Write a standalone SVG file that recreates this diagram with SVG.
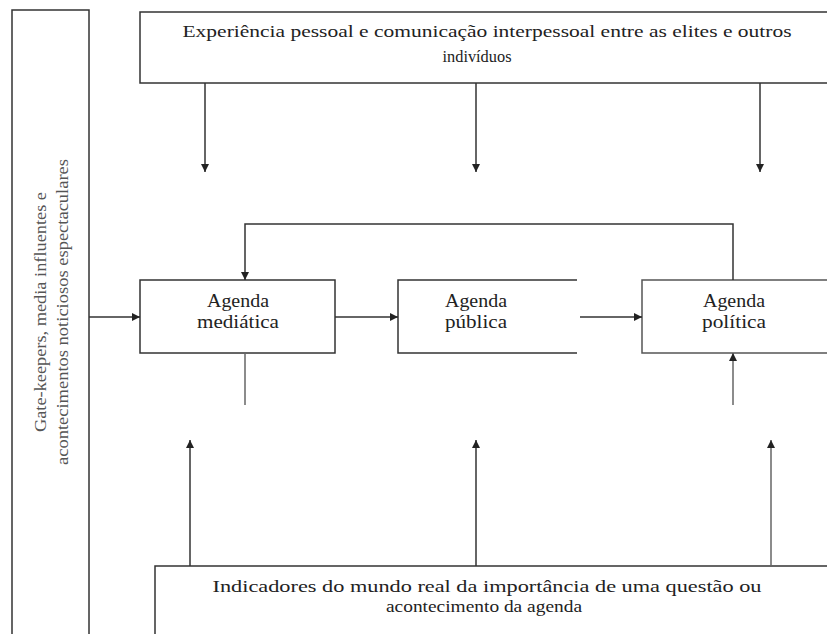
<svg xmlns="http://www.w3.org/2000/svg" width="827" height="634" viewBox="0 0 827 634">
<defs>
<style>
.box{fill:#fff;stroke:#333;stroke-width:1.5}
.ln{fill:none;stroke:#333;stroke-width:1.5}
.t{font-family:"Liberation Serif","DejaVu Serif",serif;font-size:17px;fill:#222;text-anchor:middle}
.a{font-size:19px}
.v{fill:#555;font-size:16px}
</style>
<marker id="ah" viewBox="0 0 10 10" refX="10" refY="5" markerWidth="8" markerHeight="8" markerUnits="userSpaceOnUse" orient="auto">
<path d="M0,0 L10,5 L0,10 z" fill="#222"/>
</marker>
</defs>
<rect width="827" height="634" fill="#fff"/>
<g id="gatekeepers">
<rect class="box" x="12" y="10" width="77" height="640"/>
<text class="t v" transform="translate(46,312) rotate(-90)" textLength="240" lengthAdjust="spacingAndGlyphs">Gate-keepers, media influentes e</text>
<text class="t v" transform="translate(68,312) rotate(-90)" textLength="306" lengthAdjust="spacingAndGlyphs">acontecimentos noticiosos espectaculares</text>
</g>
<g id="experiencia">
<rect class="box" x="140" y="12" width="700" height="71"/>
<text class="t" x="487" y="37" textLength="609" lengthAdjust="spacingAndGlyphs">Experiência pessoal e comunicação interpessoal entre as elites e outros</text>
<text class="t" x="477" y="62" textLength="69" lengthAdjust="spacingAndGlyphs">indivíduos</text>
</g>
<g id="mediatica">
<rect class="box" x="140" y="280" width="195" height="73"/>
<text class="t a" x="238" y="307" textLength="62" lengthAdjust="spacingAndGlyphs">Agenda</text>
<text class="t a" x="238" y="328" textLength="82" lengthAdjust="spacingAndGlyphs">mediática</text>
</g>
<g id="publica">
<path class="ln" d="M577,280 H398 V353 H577"/>
<text class="t a" x="476" y="307" textLength="62" lengthAdjust="spacingAndGlyphs">Agenda</text>
<text class="t a" x="476" y="328" textLength="62" lengthAdjust="spacingAndGlyphs">pública</text>
</g>
<g id="politica">
<path class="ln" d="M830,280 H642 V353 H830" style="stroke:#555"/>
<text class="t a" x="734" y="307" textLength="62" lengthAdjust="spacingAndGlyphs">Agenda</text>
<text class="t a" x="734" y="328" textLength="64" lengthAdjust="spacingAndGlyphs">política</text>
</g>
<g id="indicadores">
<rect class="box" x="155" y="566" width="690" height="80"/>
<text class="t" x="487" y="592" textLength="549" lengthAdjust="spacingAndGlyphs">Indicadores do mundo real da importância de uma questão ou</text>
<text class="t" x="484" y="612" textLength="196" lengthAdjust="spacingAndGlyphs">acontecimento da agenda</text>
</g>
<g id="connectors">
<line class="ln" x1="89" y1="317" x2="140" y2="317" marker-end="url(#ah)"/>
<line class="ln" x1="205" y1="83" x2="205" y2="172" marker-end="url(#ah)"/>
<line class="ln" x1="476" y1="83" x2="476" y2="172" marker-end="url(#ah)"/>
<line class="ln" x1="760" y1="83" x2="760" y2="172" marker-end="url(#ah)"/>
<path class="ln" d="M733,280 V224 H245 V280" marker-end="url(#ah)"/>
<line class="ln" x1="335" y1="317" x2="398" y2="317" marker-end="url(#ah)"/>
<line class="ln" x1="580" y1="317" x2="642" y2="317" marker-end="url(#ah)"/>
<line class="ln" x1="245" y1="353" x2="245" y2="405" style="stroke:#666"/>
<line class="ln" x1="733" y1="405" x2="733" y2="353" marker-end="url(#ah)" style="stroke:#666"/>
<line class="ln" x1="190" y1="566" x2="190" y2="440" marker-end="url(#ah)"/>
<line class="ln" x1="476" y1="566" x2="476" y2="440" marker-end="url(#ah)"/>
<line class="ln" x1="771" y1="566" x2="771" y2="440" marker-end="url(#ah)" style="stroke:#666"/>
</g>
</svg>
